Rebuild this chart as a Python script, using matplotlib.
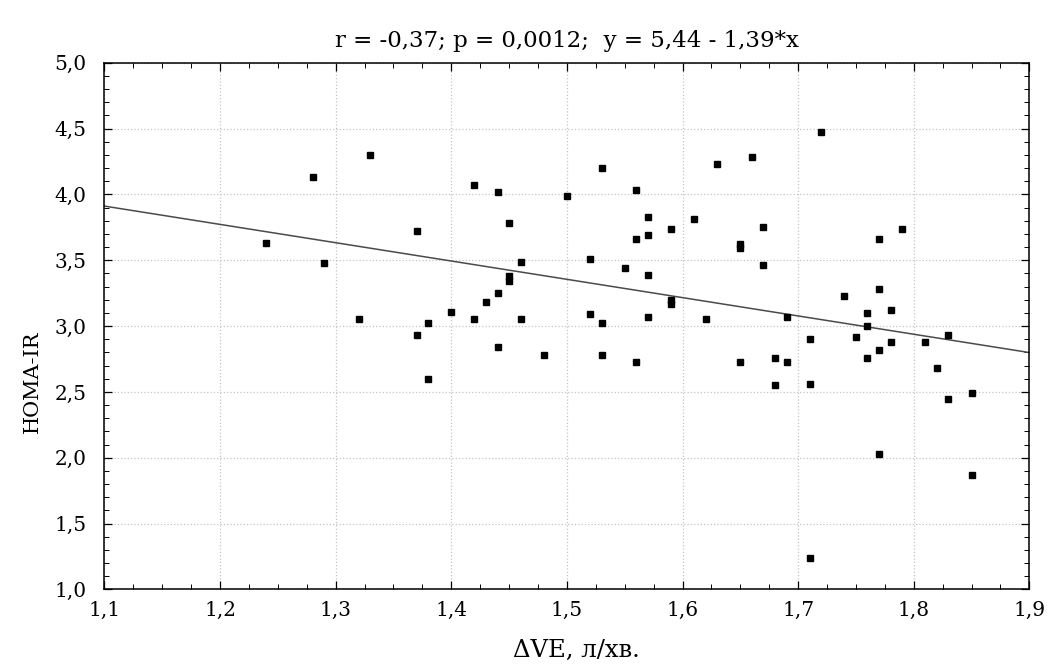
import matplotlib
matplotlib.use("Agg")
import matplotlib.pyplot as plt
from matplotlib.ticker import MultipleLocator, FuncFormatter
import numpy as np

dve = [1.24, 1.28, 1.29, 1.33, 1.37, 1.32, 1.38, 1.37, 1.38, 1.40,
       1.42, 1.44, 1.45, 1.46, 1.45, 1.45, 1.44, 1.43, 1.42, 1.46,
       1.44, 1.48, 1.50, 1.53, 1.52, 1.52, 1.53, 1.53, 1.55, 1.56,
       1.56, 1.57, 1.57, 1.57, 1.57, 1.56, 1.59, 1.59, 1.59, 1.61,
       1.62, 1.63, 1.66, 1.65, 1.65, 1.67, 1.67, 1.65, 1.68, 1.68,
       1.72, 1.79, 1.77, 1.74, 1.77, 1.69, 1.76, 1.78, 1.76, 1.75,
       1.78, 1.77, 1.76, 1.71, 1.69, 1.71, 1.81, 1.83, 1.82, 1.83,
       1.85, 1.77, 1.85, 1.71]
homa = [3.63, 4.13, 3.48, 4.30, 3.72, 3.05, 3.02, 2.93, 2.60, 3.11,
        4.07, 4.02, 3.78, 3.49, 3.38, 3.34, 3.25, 3.18, 3.05, 3.05,
        2.84, 2.78, 3.99, 4.20, 3.51, 3.09, 3.02, 2.78, 3.44, 4.03,
        3.66, 3.83, 3.69, 3.39, 3.07, 2.73, 3.74, 3.20, 3.17, 3.81,
        3.05, 4.23, 4.28, 3.62, 3.59, 3.75, 3.46, 2.73, 2.76, 2.55,
        4.47, 3.74, 3.66, 3.23, 3.28, 3.07, 3.10, 3.12, 3.00, 2.92,
        2.88, 2.82, 2.76, 2.90, 2.73, 2.56, 2.88, 2.93, 2.68, 2.45,
        2.49, 2.03, 1.87, 1.24]
intercept = 5.44
slope = -1.39
title_text = "r = -0,37; p = 0,0012;  y = 5,44 - 1,39*x"
x_label = "ΔVE, л/хв."
y_label = "HOMA-IR"

plt.rcParams['font.family'] = ['DejaVu Serif', 'Liberation Serif']

fig = plt.figure(figsize=(10.51, 6.66), dpi=100)
ax = fig.add_axes([0.0994, 0.1149, 0.9794 - 0.0994, 0.9059 - 0.1149])

xl = np.array([1.1, 1.9])
ax.plot(xl, intercept + slope * xl, color='#4a4a4a', lw=1.1, zorder=2)
ax.plot(dve, homa, linestyle='none', marker='s', ms=4.8, color='black', zorder=3)

ax.set_xlim(1.1, 1.9)
ax.set_ylim(1.0, 5.0)
ax.xaxis.set_major_locator(MultipleLocator(0.1))
ax.xaxis.set_minor_locator(MultipleLocator(0.025))
ax.yaxis.set_major_locator(MultipleLocator(0.5))
ax.yaxis.set_minor_locator(MultipleLocator(0.1))
fmt = FuncFormatter(lambda v, p: f"{v:.1f}".replace('.', ','))
ax.xaxis.set_major_formatter(fmt)
ax.yaxis.set_major_formatter(fmt)
ax.tick_params(which='both', direction='in', top=True, right=True, labelsize=14.5, colors='black')
ax.tick_params(which='major', length=6, width=0.9)
ax.tick_params(which='minor', length=3.5, width=0.7)
ax.tick_params(axis='x', pad=8)
ax.tick_params(axis='y', pad=13)
ax.grid(True, which='major', linestyle=':', color='#c4c4c4', lw=0.9)
for s in ax.spines.values():
    s.set_linewidth(1.1)
    s.set_color('black')

ax.set_title(title_text, fontsize=16.5, pad=11)
ax.set_xlabel(x_label, fontsize=17.5)
ax.set_ylabel(y_label, fontsize=15)
ax.xaxis.set_label_coords(0.51, -0.093)
ax.yaxis.set_label_coords(-0.068, 0.394)

fig.savefig("out.png", dpi=100)
